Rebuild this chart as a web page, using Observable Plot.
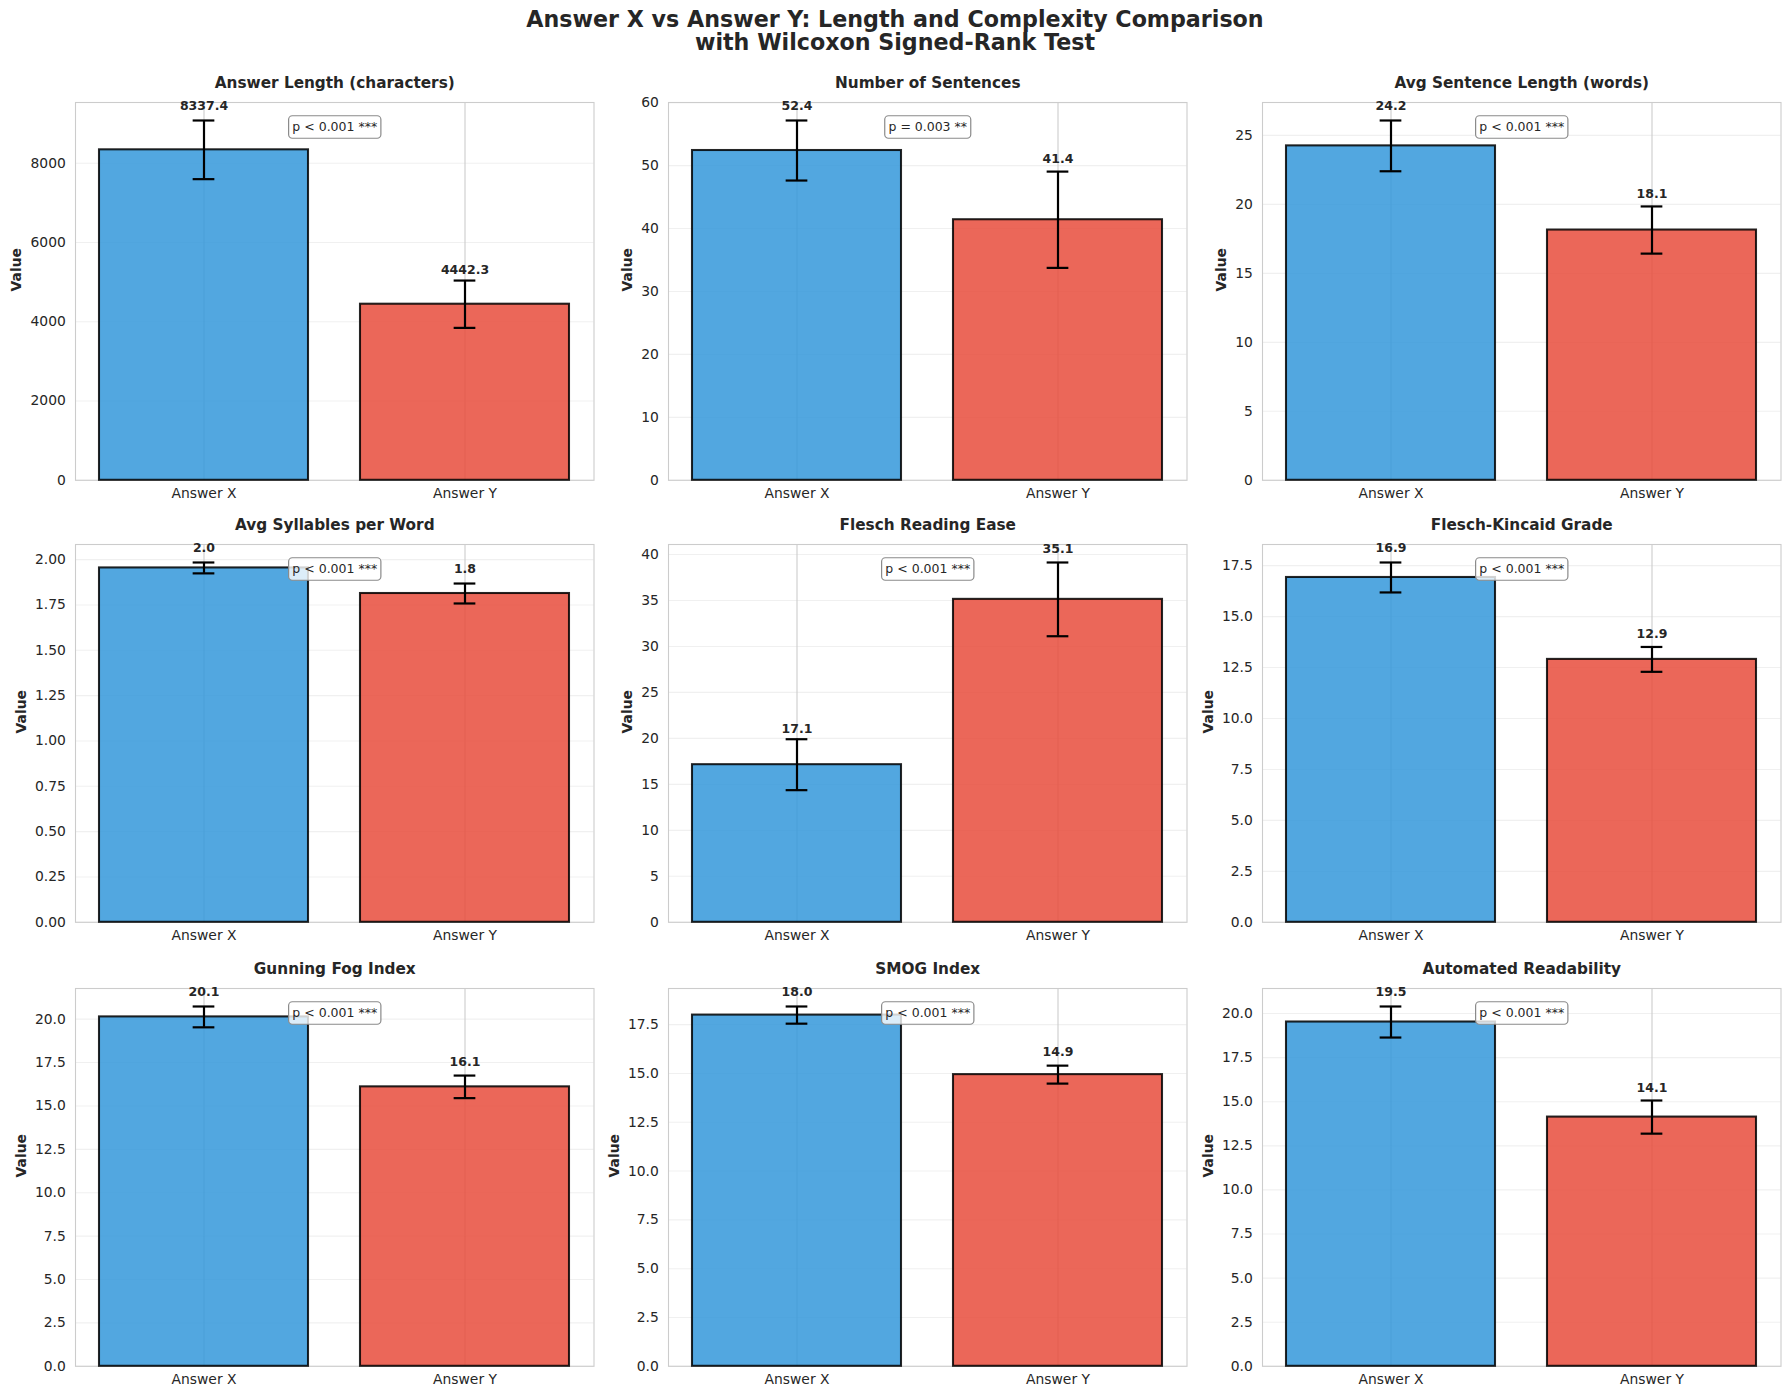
<!DOCTYPE html>
<html>
<head>
<meta charset="utf-8">
<script src="https://cdn.jsdelivr.net/npm/d3@7"></script>
<script src="https://cdn.jsdelivr.net/npm/@observablehq/plot@0.6"></script>
<style>
  body { margin: 0; background: #ffffff; }
  #fig { position: relative; width: 1790px; height: 1398px; background: #ffffff;
         font-family: "DejaVu Sans", sans-serif; color: #262626; overflow: hidden; }
  .ttl { position: absolute; left: 0; width: 1790px; text-align: center; font-size: 22.2px;
         font-weight: bold; line-height: 1; white-space: nowrap; color: #262626; }
</style>
</head>
<body>
<div id="fig">
  <div class="ttl" style="top:8.2px">Answer X vs Answer Y: Length and Complexity Comparison</div>
  <div class="ttl" style="top:31.2px">with Wilcoxon Signed-Rank Test</div>
</div>
<script>
// ---------------- data ----------------
const metrics = [
  "Answer Length (characters)", "Number of Sentences", "Avg Sentence Length (words)",
  "Avg Syllables per Word", "Flesch Reading Ease", "Flesch-Kincaid Grade",
  "Gunning Fog Index", "SMOG Index", "Automated Readability"
];
const groups = ["Answer X", "Answer Y"];
const meanX = [8337.4, 52.4, 24.24, 1.954, 17.14, 16.92, 20.13, 17.99, 19.52];
const errX  = [740,    4.77, 1.84,  0.030, 2.77,  0.735, 0.60,  0.44,  0.88];
const meanY = [4442.3, 41.4, 18.14, 1.813, 35.12, 12.90, 16.10, 14.94, 14.13];
const errY  = [597,    7.65, 1.71,  0.055, 4.01,  0.61,  0.65,  0.46,  0.94];
const pLabels = [
  "p < 0.001 ***", "p = 0.003 **", "p < 0.001 ***",
  "p < 0.001 ***", "p < 0.001 ***", "p < 0.001 ***",
  "p < 0.001 ***", "p < 0.001 ***", "p < 0.001 ***"
];
const yTicks = [
  [0, 2000, 4000, 6000, 8000],
  [0, 10, 20, 30, 40, 50, 60],
  [0, 5, 10, 15, 20, 25],
  [0, 0.25, 0.5, 0.75, 1, 1.25, 1.5, 1.75, 2],
  [0, 5, 10, 15, 20, 25, 30, 35, 40],
  [0, 2.5, 5, 7.5, 10, 12.5, 15, 17.5],
  [0, 2.5, 5, 7.5, 10, 12.5, 15, 17.5, 20],
  [0, 2.5, 5, 7.5, 10, 12.5, 15, 17.5],
  [0, 2.5, 5, 7.5, 10, 12.5, 15, 17.5, 20]
];
const tickFormats = ["d", "d", "d", ".2f", "d", ".1f", ".1f", ".1f", ".1f"];
const barColors = ["#3498db", "#e74c3c"];

// ---------------- layout ----------------
const AX_W = 518.5, AX_H = 377.8;
const colLeft = [74.6, 668.1, 1261.6];
const rowTop = [102, 544.4, 987.8];
const ML = 80, MR = 8, MT = 44, MB = 40;
const CAP = 22.2;

const fig = document.getElementById("fig");
const ctx = document.createElement("canvas").getContext("2d");
ctx.font = "13.9px 'DejaVu Sans'";
const valFmt = d3.format(".1f");

metrics.forEach((title, i) => {
  const data = groups.map((g, j) => ({
    group: g,
    v: j ? meanY[i] : meanX[i],
    e: j ? errY[i] : errX[i]
  }));
  const ymax = 1.05 * d3.max(data, d => d.v + d.e);
  const fmt = d3.format(tickFormats[i]);
  const tickW = d3.max(yTicks[i], t => ctx.measureText(fmt(t)).width);
  const bw = AX_W * 0.8 / 1.98;
  const capInset = (bw - CAP) / 2;

  const plot = Plot.plot({
    width: ML + AX_W + MR,
    height: MT + AX_H + MB,
    marginLeft: ML, marginRight: MR, marginTop: MT, marginBottom: MB,
    style: {background: "transparent", overflow: "visible", fontFamily: "DejaVu Sans",
            fontSize: "13.9px", color: "#262626"},
    x: {type: "band", domain: groups, paddingInner: 0.2, paddingOuter: 0.09, align: 0.5,
        tickSize: 0, tickPadding: 8, label: null},
    y: {domain: [0, ymax], ticks: yTicks[i], tickFormat: fmt, tickSize: 0, tickPadding: 9.7, label: null},
    color: {domain: groups, range: barColors},
    marks: [
      Plot.ruleY(yTicks[i], {stroke: "#cccccc", strokeOpacity: 0.3, strokeWidth: 1.1}),
      Plot.ruleX(groups, {stroke: "#cccccc", strokeWidth: 1.1}),
      Plot.frame({stroke: "#cccccc", strokeWidth: 1.1}),
      Plot.barY(data, {x: "group", y: "v", fill: "group", fillOpacity: 0.85,
                       stroke: "black", strokeOpacity: 0.85, strokeWidth: 2.08}),
      Plot.ruleX(data, {x: "group", y1: d => d.v - d.e, y2: d => d.v + d.e,
                        stroke: "black", strokeWidth: 2.2}),
      Plot.tickY(data, {x: "group", y: d => d.v + d.e, stroke: "black", strokeWidth: 2.2, inset: capInset}),
      Plot.tickY(data, {x: "group", y: d => d.v - d.e, stroke: "black", strokeWidth: 2.2, inset: capInset}),
      Plot.text(data, {x: "group", y: d => d.v + d.e + 0.02 * d.v, text: d => valFmt(d.v),
                       lineAnchor: "bottom", dy: -3.5, fontWeight: "bold", fontSize: 12.5, fill: "#262626"}),
      Plot.text([pLabels[i]], {frameAnchor: "top", lineAnchor: "bottom", dy: 29, fontSize: 12.5,
                               fill: "#262626"}),
      Plot.text([title], {frameAnchor: "top", lineAnchor: "bottom", dy: -14, fontWeight: "bold",
                          fontSize: 15.3, fill: "#262626"}),
      Plot.text(["Value"], {frameAnchor: "left", rotate: -90, dx: -(9.7 + tickW + 5.6 + 8),
                            fontWeight: "bold", fontSize: 13.9, fill: "#262626"})
    ]
  });

  const col = i % 3, row = Math.floor(i / 3);
  plot.style.position = "absolute";
  plot.style.left = (colLeft[col] - ML) + "px";
  plot.style.top = (rowTop[row] - MT) + "px";
  plot.style.maxWidth = "none";
  fig.appendChild(plot);

  // rounded box behind the p-value annotation
  Array.from(plot.querySelectorAll("text"))
    .filter(t => t.textContent === pLabels[i])
    .forEach(t => {
      const b = t.getBBox();
      const pad = 3.75;
      const r = document.createElementNS("http://www.w3.org/2000/svg", "rect");
      r.setAttribute("x", b.x - pad);
      r.setAttribute("y", b.y - pad);
      r.setAttribute("width", b.width + 2 * pad);
      r.setAttribute("height", b.height + 2 * pad);
      r.setAttribute("rx", 3.75);
      r.setAttribute("fill", "white");
      r.setAttribute("fill-opacity", 0.8);
      r.setAttribute("stroke", "#8a8a8a");
      r.setAttribute("stroke-width", 1.2);
      const tr = t.getAttribute("transform");
      if (tr) r.setAttribute("transform", tr);
      t.parentNode.insertBefore(r, t);
    });
});
</script>
</body>
</html>
